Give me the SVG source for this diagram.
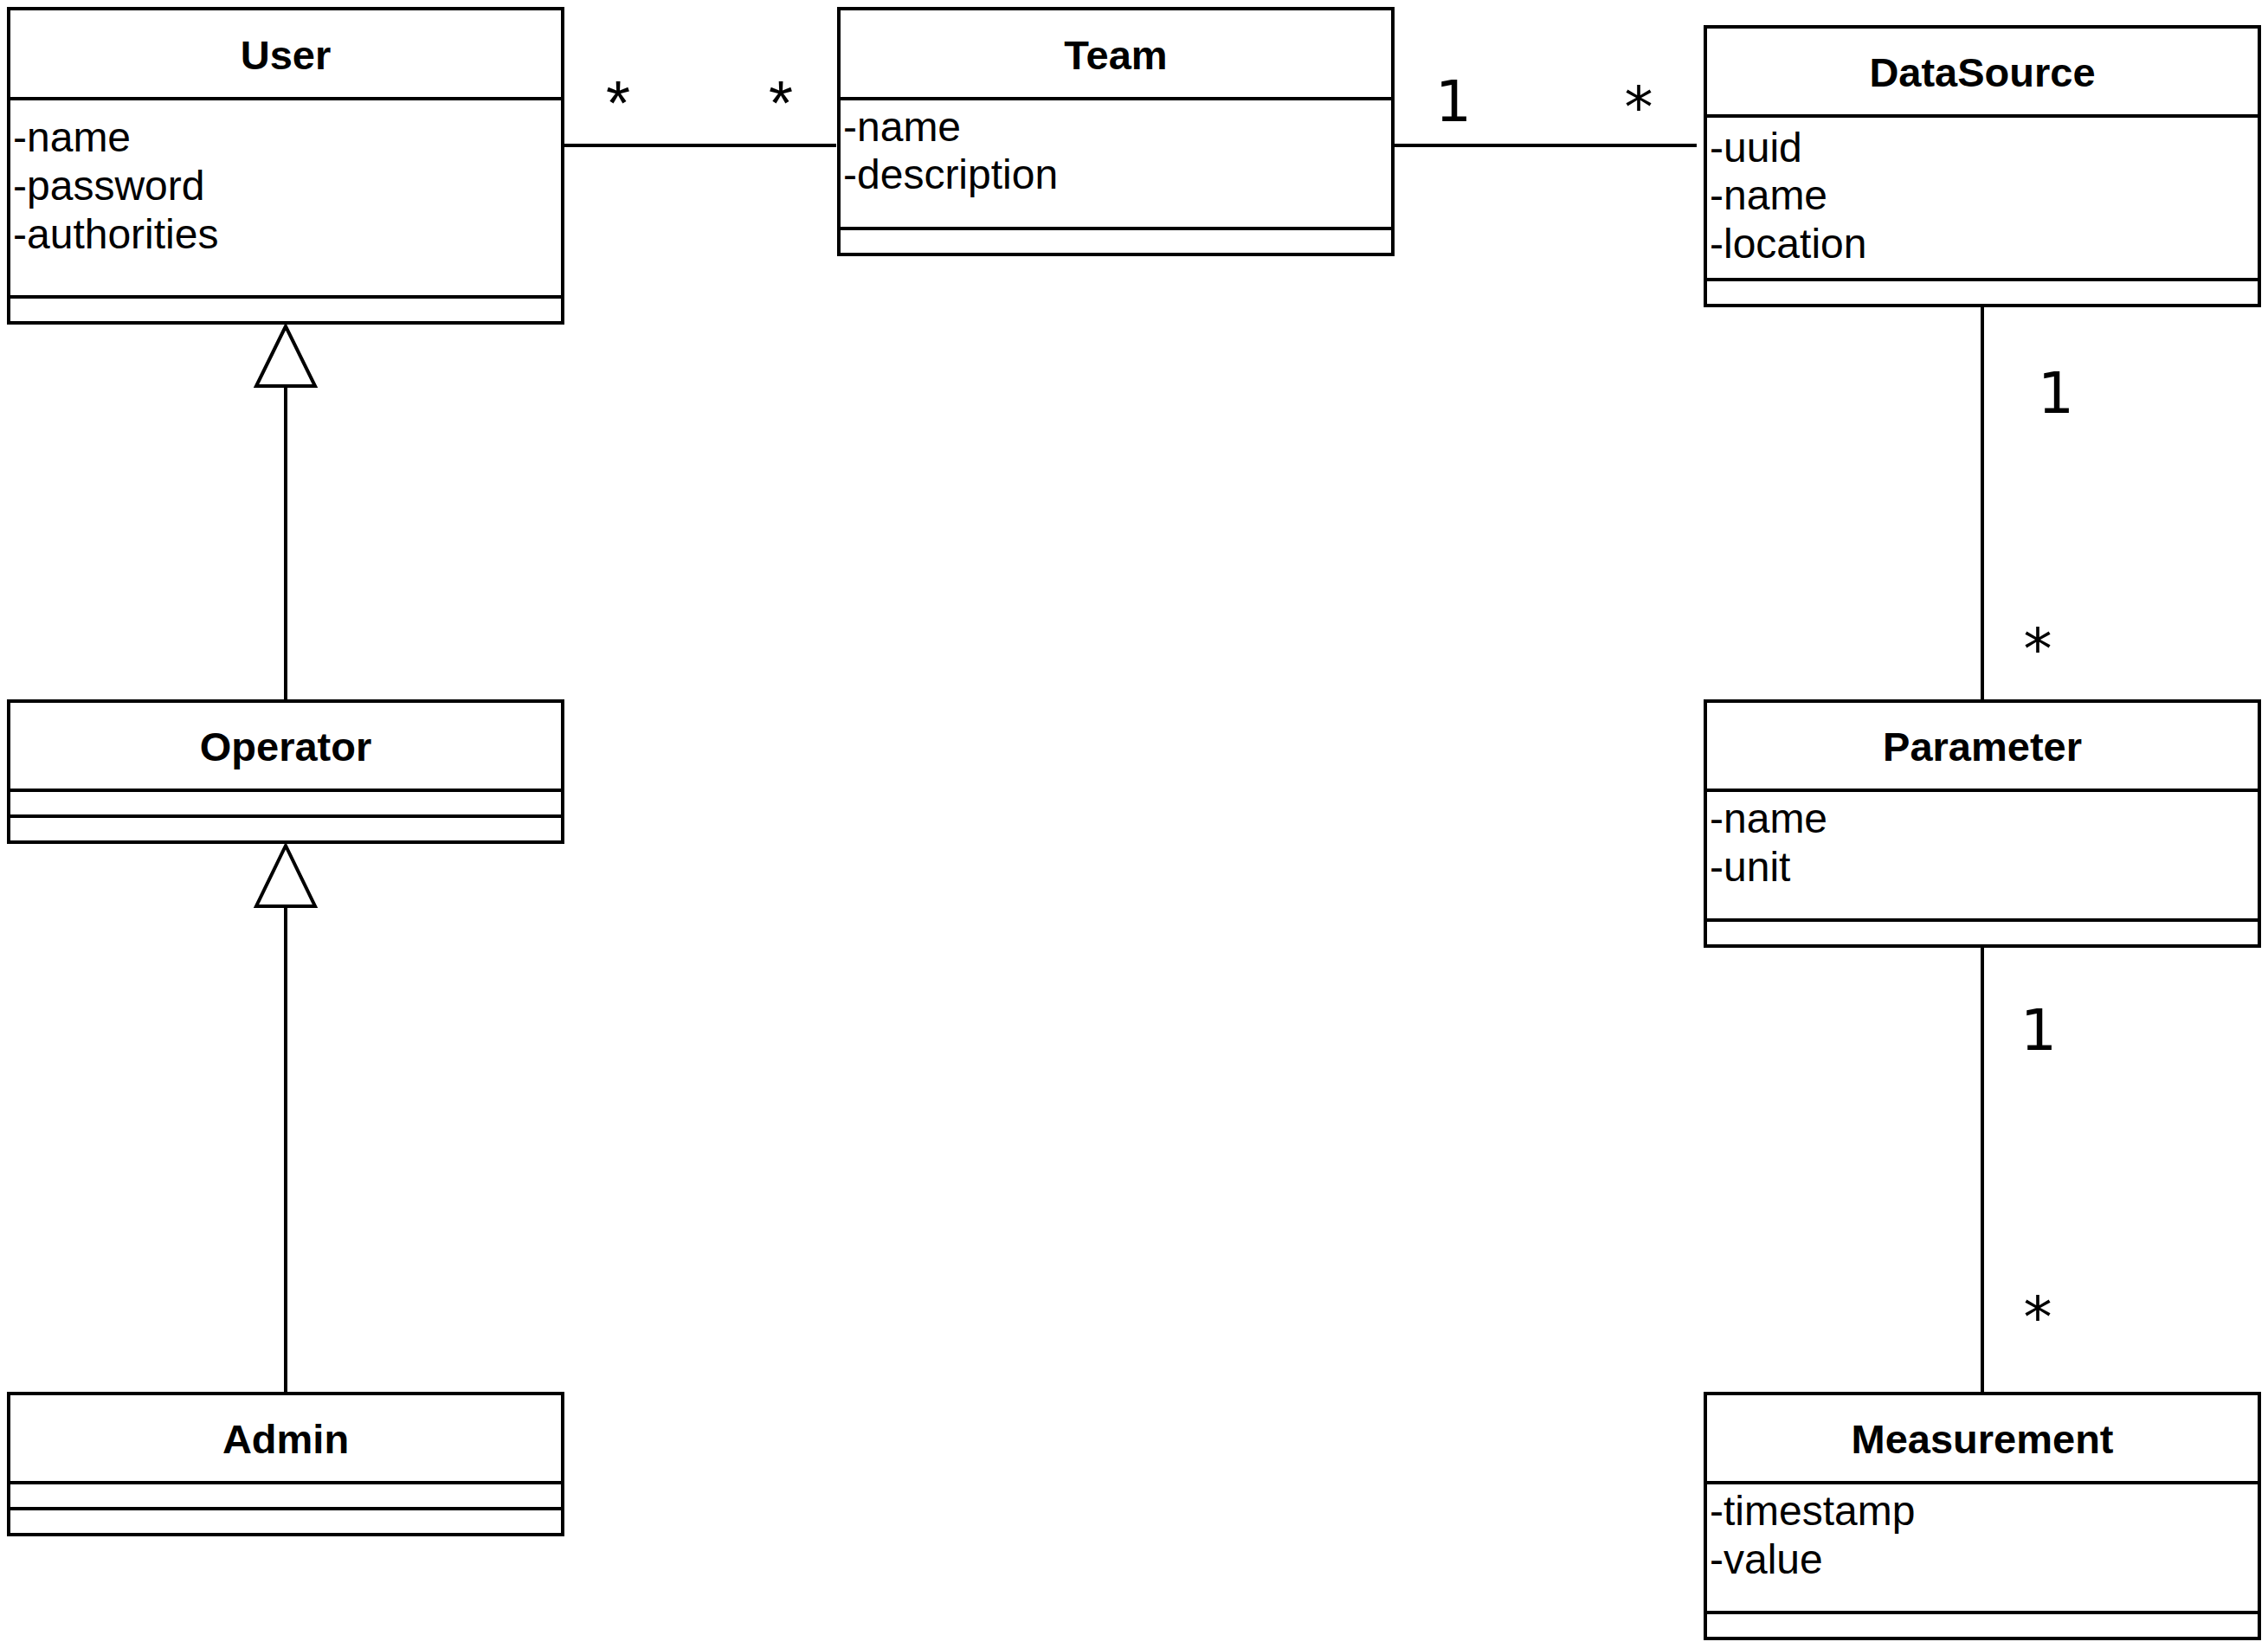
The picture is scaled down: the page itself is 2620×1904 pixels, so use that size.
<svg xmlns="http://www.w3.org/2000/svg" width="2620" height="1904" viewBox="0 0 2620 1904">
<style>
.box{fill:#fff;stroke:#000;stroke-width:4}
.ln{stroke:#000;stroke-width:4;fill:none}
.title{font-family:"Liberation Sans",Arial,sans-serif;font-size:47px;font-weight:bold;text-anchor:middle;fill:#000}
.attr{font-family:"Liberation Sans",Arial,sans-serif;font-size:48px;fill:#000}
.mult{font-family:"DejaVu Sans",sans-serif;font-size:66px;text-anchor:middle;fill:#000}
.star{font-family:"Liberation Sans",Arial,sans-serif;font-size:72px;text-anchor:middle;fill:#000}
.tri{fill:#fff;stroke:#000;stroke-width:4}
</style>
<rect width="2620" height="1904" fill="#fff"/>
<g id="connectors">
<line class="ln" x1="652" y1="168" x2="966" y2="168"/>
<line class="ln" x1="1611" y1="168" x2="1960" y2="168"/>
<line class="ln" x1="330" y1="446" x2="330" y2="810"/>
<polygon class="tri" points="330,377 296,446 364,446"/>
<line class="ln" x1="330" y1="1047" x2="330" y2="1610"/>
<polygon class="tri" points="330,977 296,1047 364,1047"/>
<line class="ln" x1="2290" y1="355" x2="2290" y2="810"/>
<line class="ln" x1="2290" y1="1095" x2="2290" y2="1610"/>
<text class="star" x="714" y="144">*</text>
<text class="star" x="902" y="144">*</text>
<text class="mult" x="1679" y="140">1</text>
<text class="mult" x="1893" y="147">*</text>
<text class="mult" x="2375" y="477">1</text>
<text class="mult" x="2354" y="773">*</text>
<text class="mult" x="2355" y="1213">1</text>
<text class="mult" x="2354" y="1545">*</text>
</g>
<g id="User">
<rect class="box" x="10" y="10" width="640" height="363"/>
<line class="ln" x1="10" y1="114" x2="650" y2="114"/>
<line class="ln" x1="10" y1="343" x2="650" y2="343"/>
<text class="title" x="330" y="80">User</text>
<text class="attr" x="15" y="175">-name</text>
<text class="attr" x="15" y="231">-password</text>
<text class="attr" x="15" y="287">-authorities</text>
</g>
<g id="Team">
<rect class="box" x="969" y="10" width="640" height="284"/>
<line class="ln" x1="969" y1="114" x2="1609" y2="114"/>
<line class="ln" x1="969" y1="264" x2="1609" y2="264"/>
<text class="title" x="1289" y="80">Team</text>
<text class="attr" x="974" y="163">-name</text>
<text class="attr" x="974" y="218">-description</text>
</g>
<g id="DataSource">
<rect class="box" x="1970" y="31" width="640" height="322"/>
<line class="ln" x1="1970" y1="134" x2="2610" y2="134"/>
<line class="ln" x1="1970" y1="323" x2="2610" y2="323"/>
<text class="title" x="2290" y="100">DataSource</text>
<text class="attr" x="1975" y="187">-uuid</text>
<text class="attr" x="1975" y="242">-name</text>
<text class="attr" x="1975" y="298">-location</text>
</g>
<g id="Operator">
<rect class="box" x="10" y="810" width="640" height="163"/>
<line class="ln" x1="10" y1="913" x2="650" y2="913"/>
<line class="ln" x1="10" y1="943" x2="650" y2="943"/>
<text class="title" x="330" y="879">Operator</text>
</g>
<g id="Admin">
<rect class="box" x="10" y="1610" width="640" height="163"/>
<line class="ln" x1="10" y1="1713" x2="650" y2="1713"/>
<line class="ln" x1="10" y1="1743" x2="650" y2="1743"/>
<text class="title" x="330" y="1679">Admin</text>
</g>
<g id="Parameter">
<rect class="box" x="1970" y="810" width="640" height="283"/>
<line class="ln" x1="1970" y1="913" x2="2610" y2="913"/>
<line class="ln" x1="1970" y1="1063" x2="2610" y2="1063"/>
<text class="title" x="2290" y="879">Parameter</text>
<text class="attr" x="1975" y="962">-name</text>
<text class="attr" x="1975" y="1018">-unit</text>
</g>
<g id="Measurement">
<rect class="box" x="1970" y="1610" width="640" height="283"/>
<line class="ln" x1="1970" y1="1713" x2="2610" y2="1713"/>
<line class="ln" x1="1970" y1="1863" x2="2610" y2="1863"/>
<text class="title" x="2290" y="1679">Measurement</text>
<text class="attr" x="1975" y="1762">-timestamp</text>
<text class="attr" x="1975" y="1818">-value</text>
</g>
</svg>
